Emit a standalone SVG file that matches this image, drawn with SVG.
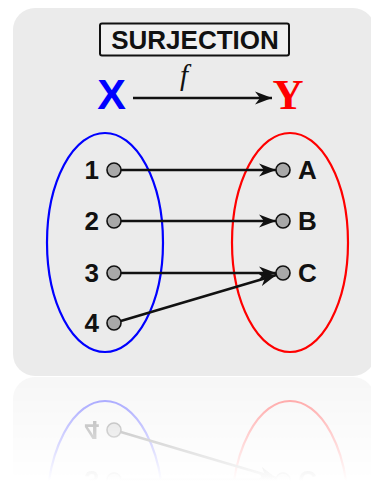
<svg xmlns="http://www.w3.org/2000/svg" xmlns:xlink="http://www.w3.org/1999/xlink" width="371" height="481" viewBox="0 0 371 481">
<style>
.lbl{font-family:"Liberation Sans",Arial,sans-serif;font-weight:bold;font-size:26px;fill:#111}
.dot{fill:#a8a8a8;stroke:#111;stroke-width:1.6}
.con{stroke:#111;stroke-width:2.6;fill:none;marker-end:url(#ah)}
</style>
<defs>
<marker id="ah" markerUnits="userSpaceOnUse" markerWidth="18" markerHeight="14" refX="17" refY="6.5" orient="auto" viewBox="0 0 18 13">
<path d="M0,0 L17,6.5 L0,13 L5,6.5 z" fill="#111"/>
</marker>
<linearGradient id="fg" x1="0" y1="377" x2="0" y2="481" gradientUnits="userSpaceOnUse">
<stop offset="0" stop-color="#fff" stop-opacity="0.42"/>
<stop offset="1" stop-color="#fff" stop-opacity="0"/>
</linearGradient>
<mask id="fade" maskUnits="userSpaceOnUse" x="0" y="377" width="371" height="104">
<rect x="0" y="377" width="371" height="104" fill="url(#fg)"/>
</mask>
</defs>
<g id="main">
<rect id="panel" x="13" y="8" width="362" height="368" rx="22" fill="#ebebeb"/>
<g id="title">
<rect x="100" y="23.5" width="189" height="32" rx="2" fill="#f0f0f0" stroke="#111" stroke-width="2"/>
<text x="195" y="48.5" text-anchor="middle" class="lbl" font-size="26.5">SURJECTION</text>
</g>
<g id="setX"><text x="111.5" y="109" text-anchor="middle" font-family="'Liberation Sans',Arial,sans-serif" font-weight="bold" font-size="43" fill="#0000ff">X</text>
<ellipse cx="105" cy="242.5" rx="58" ry="109.5" fill="none" stroke="#0000ff" stroke-width="2.2"/></g>
<g id="setY"><text x="288" y="109" text-anchor="middle" font-family="'Liberation Serif','Times New Roman',serif" font-weight="bold" font-size="43" fill="#ff0000">Y</text>
<ellipse cx="290" cy="242.5" rx="58" ry="109.5" fill="none" stroke="#ff0000" stroke-width="2.2"/></g>
<g id="connectors">
<line class="con" x1="133" y1="98" x2="272" y2="98"/>
<text x="184" y="85" text-anchor="middle" font-family="'Liberation Serif','Times New Roman',serif" font-style="italic" font-size="29" fill="#111">f</text>
<line class="con" x1="114" y1="170" x2="276" y2="170"/>
<line class="con" x1="114" y1="221" x2="276" y2="221"/>
<line class="con" x1="114" y1="273" x2="276" y2="273"/>
<line class="con" x1="114" y1="323" x2="276.3" y2="275"/>
</g>
<g id="n1"><circle class="dot" cx="114" cy="170" r="7"/><text class="lbl" x="99" y="179" text-anchor="end">1</text></g>
<g id="n2"><circle class="dot" cx="114" cy="221" r="7"/><text class="lbl" x="99" y="230" text-anchor="end">2</text></g>
<g id="n3"><circle class="dot" cx="114" cy="273" r="7"/><text class="lbl" x="99" y="282" text-anchor="end">3</text></g>
<g id="n4"><circle class="dot" cx="114" cy="323" r="7"/><text class="lbl" x="99" y="332" text-anchor="end">4</text></g>
<g id="nA"><circle class="dot" cx="283" cy="170" r="7"/><text class="lbl" x="298" y="179">A</text></g>
<g id="nB"><circle class="dot" cx="283" cy="221" r="7"/><text class="lbl" x="298" y="230">B</text></g>
<g id="nC"><circle class="dot" cx="283" cy="273" r="7"/><text class="lbl" x="298" y="282">C</text></g>
</g>
<g id="reflection" mask="url(#fade)">
<use xlink:href="#main" transform="translate(0,753) scale(1,-1)"/>
</g>
</svg>
